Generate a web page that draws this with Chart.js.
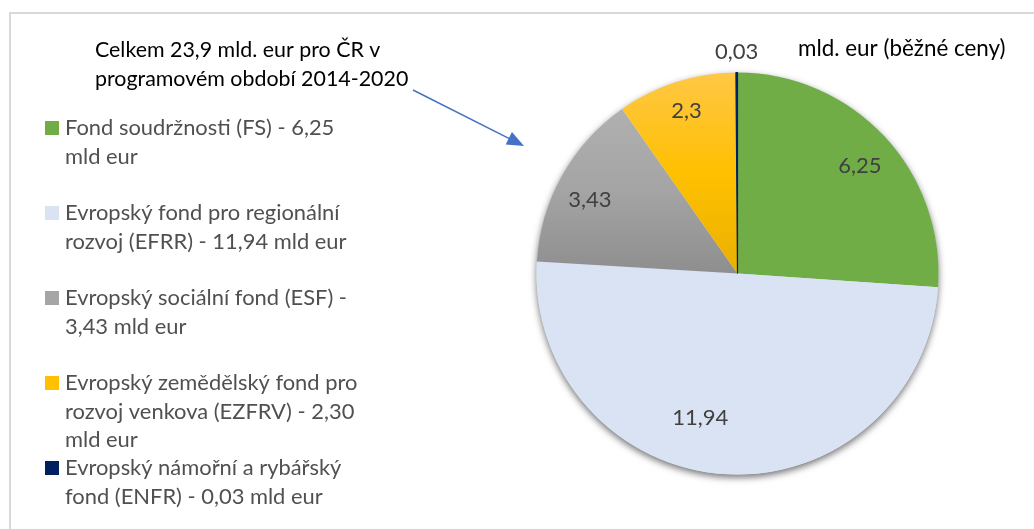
<!DOCTYPE html>
<html>
<head>
<meta charset="utf-8">
<script src="https://cdn.jsdelivr.net/npm/chart.js@4/dist/chart.umd.min.js"></script>
<style>
  html, body { margin: 0; padding: 0; background: #ffffff; }
  #wrap { width: 1034px; height: 529px; position: relative; }
</style>
</head>
<body>
<div id="wrap"><canvas id="c" width="1034" height="529"></canvas></div>
<script>
// ---- data ----
const categories = ['FS', 'EFRR', 'ESF', 'EZFRV', 'ENFR'];
const values = [6.25, 11.94, 3.43, 2.3, 0.03];
const valueLabels = ['6,25', '11,94', '3,43', '2,3', '0,03'];
const legendTexts = [
  ['Fond soudržnosti (FS) - 6,25', 'mld eur'],
  ['Evropský fond pro regionální', 'rozvoj (EFRR) - 11,94 mld eur'],
  ['Evropský sociální fond (ESF) -', '3,43 mld eur'],
  ['Evropský zemědělský fond pro', 'rozvoj venkova (EZFRV) - 2,30', 'mld eur'],
  ['Evropský námořní a rybářský', 'fond (ENFR) - 0,03 mld eur']
];
const titleLines = ['Celkem 23,9 mld. eur pro ČR v', 'programovém období 2014-2020'];
const unitText = 'mld. eur (běžné ceny)';

// ---- styles ----
const legendColors = ['#70AD47', '#DAE3F3', '#A5A5A5', '#FFC000', '#002060'];
const FONT = 'Lato, "Open Sans", sans-serif';

function sliceFill(ctx) {
  const i = ctx.dataIndex;
  const chart = ctx.chart;
  const area = chart.chartArea;
  if (!area) return legendColors[i];
  const cy = (area.top + area.bottom) / 2;
  const c = chart.ctx;
  if (i === 2) {
    const g = c.createLinearGradient(0, area.top + 35, 0, cy);
    g.addColorStop(0, '#B0B0B0');
    g.addColorStop(0.5, '#A4A4A4');
    g.addColorStop(1, '#8E8E8E');
    return g;
  }
  if (i === 3) {
    const g = c.createLinearGradient(0, area.top, 0, cy);
    g.addColorStop(0, '#FFC746');
    g.addColorStop(0.5, '#FFC000');
    g.addColorStop(1, '#E9B000');
    return g;
  }
  return legendColors[i];
}

// label placement: radius fraction and angle shift (degrees)
const labelPlace = [
  { rf: 0.81, da: 1.7 },
  { rf: 0.74, da: 10.8 },
  { rf: 0.82, da: -2.7 },
  { rf: 0.85, da: 0.4 },
  { rf: 1.10, da: 0 }
];

const shadowPlugin = {
  id: 'pieShadow',
  beforeDatasetsDraw(chart) {
    const arc = chart.getDatasetMeta(0).data[0];
    if (!arc) return;
    const c = chart.ctx;
    c.save();
    c.shadowColor = 'rgba(0,0,0,0.55)';
    c.shadowBlur = 7;
    c.shadowOffsetX = 0;
    c.shadowOffsetY = 3;
    c.fillStyle = '#DAE3F3';
    c.beginPath();
    c.arc(arc.x, arc.y, arc.outerRadius, 0, Math.PI * 2);
    c.fill();
    c.restore();
  }
};

const labelsPlugin = {
  id: 'sliceLabels',
  afterDatasetsDraw(chart) {
    const c = chart.ctx;
    const meta = chart.getDatasetMeta(0);
    c.save();
    c.font = '22px ' + FONT;
    c.fillStyle = '#404040';
    c.textAlign = 'center';
    c.textBaseline = 'middle';
    meta.data.forEach((arc, i) => {
      const p = labelPlace[i];
      const a = (arc.startAngle + arc.endAngle) / 2 + p.da * Math.PI / 180;
      const r = arc.outerRadius * p.rf;
      c.fillText(valueLabels[i], arc.x + Math.cos(a) * r, arc.y + Math.sin(a) * r);
    });
    c.restore();
  }
};

const decorPlugin = {
  id: 'decor',
  afterDraw(chart) {
    const c = chart.ctx;
    c.save();
    // outer frame
    c.strokeStyle = '#D9D9D9';
    c.lineWidth = 2;
    c.strokeRect(10, 13, 1040, 540);
    // title
    c.fillStyle = '#000000';
    c.font = '21.4px ' + FONT;
    c.textAlign = 'left';
    c.textBaseline = 'middle';
    titleLines.forEach((t, k) => c.fillText(t, 95, 50 + k * 29));
    c.font = '22.4px ' + FONT;
    c.fillText(unitText, 798, 49);
    // arrow
    const x1 = 413, y1 = 90, x2 = 524, y2 = 146;
    const ang = Math.atan2(y2 - y1, x2 - x1);
    c.strokeStyle = '#4472C4';
    c.fillStyle = '#4472C4';
    c.lineWidth = 1.5;
    c.beginPath();
    c.moveTo(x1, y1);
    c.lineTo(x2 - Math.cos(ang) * 12, y2 - Math.sin(ang) * 12);
    c.stroke();
    c.beginPath();
    c.moveTo(x2, y2);
    c.lineTo(x2 - Math.cos(ang) * 17 + Math.sin(ang) * 7, y2 - Math.sin(ang) * 17 - Math.cos(ang) * 7);
    c.lineTo(x2 - Math.cos(ang) * 17 - Math.sin(ang) * 7, y2 - Math.sin(ang) * 17 + Math.cos(ang) * 7);
    c.closePath();
    c.fill();
    // legend
    c.font = '21.9px ' + FONT;
    legendTexts.forEach((lines, i) => {
      const y0 = 128 + i * 85;
      c.fillStyle = legendColors[i];
      c.fillRect(45, y0 - 7, 14, 14);
      c.fillStyle = '#505050';
      lines.forEach((t, k) => c.fillText(t, 65, y0 + k * 28.5));
    });
    c.restore();
  }
};

new Chart(document.getElementById('c'), {
  type: 'pie',
  data: {
    labels: categories,
    datasets: [{
      data: values,
      backgroundColor: sliceFill,
      borderColor: '#002060',
      borderWidth: [0, 0, 0, 0, 1.2]
    }]
  },
  options: {
    responsive: false,
    animation: false,
    radius: 201,
    layout: { padding: { left: 537, right: 96, top: 73, bottom: 55 } },
    plugins: {
      legend: { display: false },
      tooltip: { enabled: false },
      title: { display: false }
    }
  },
  plugins: [shadowPlugin, labelsPlugin, decorPlugin]
});
</script>
</body>
</html>
